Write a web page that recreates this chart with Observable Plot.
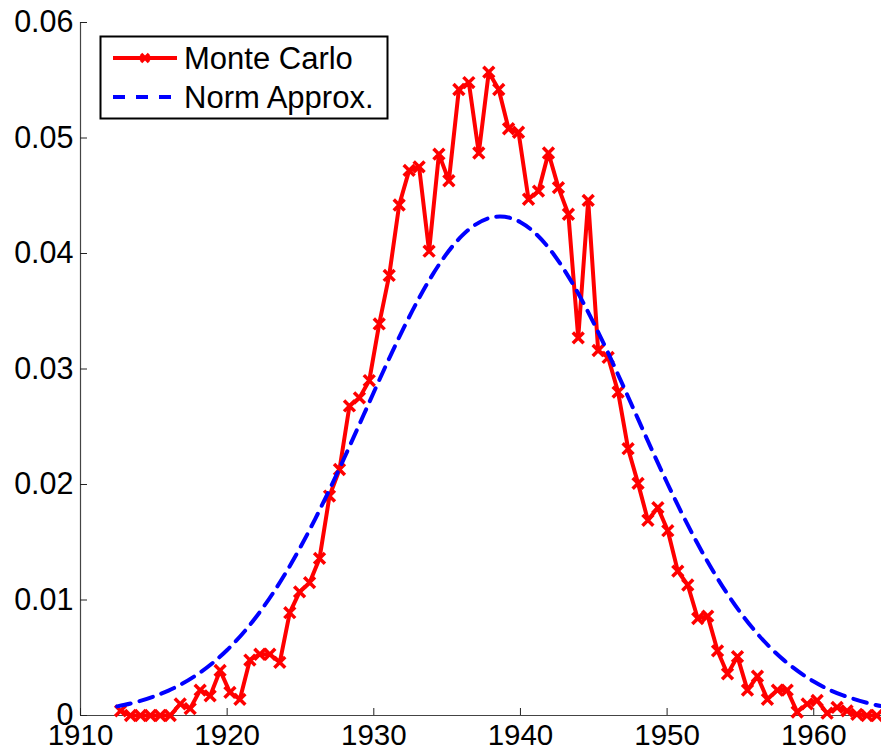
<!DOCTYPE html>
<html>
<head>
<meta charset="utf-8">
<script src="https://cdn.jsdelivr.net/npm/d3@7"></script>
<script src="https://cdn.jsdelivr.net/npm/@observablehq/plot@0.6"></script>
<style>
  html, body { margin: 0; padding: 0; background: #fff; overflow: hidden; }
  #wrap { position: relative; width: 881px; height: 755px; }
  #legend { position: absolute; left: 0; top: 0; }
</style>
</head>
<body>
<div id="wrap"></div>
<script>
// Monte Carlo series (x in years, y density)
const mcYear = [1912.73,1913.41,1914.09,1914.77,1915.44,1916.12,1916.80,1917.48,1918.16,1918.84,
  1919.52,1920.19,1920.87,1921.55,1922.23,1922.91,1923.59,1924.27,1924.94,1925.62,
  1926.30,1926.98,1927.66,1928.34,1929.02,1929.69,1930.37,1931.05,1931.73,1932.41,
  1933.09,1933.77,1934.44,1935.12,1935.80,1936.48,1937.16,1937.84,1938.52,1939.19,
  1939.87,1940.55,1941.23,1941.91,1942.59,1943.27,1943.94,1944.62,1945.30,1945.98,
  1946.66,1947.34,1948.02,1948.69,1949.37,1950.05,1950.73,1951.41,1952.09,1952.77,
  1953.44,1954.12,1954.80,1955.48,1956.16,1956.84,1957.52,1958.19,1958.87,1959.55,
  1960.23,1960.91,1961.59,1962.27,1962.94,1963.62,1964.30];
const mcValue = [0.0004,0,0,0,0,0,0.0010,0.0006,0.0022,0.0017,
  0.0039,0.0020,0.0014,0.0048,0.0053,0.0053,0.0046,0.0089,0.0107,0.0115,
  0.0136,0.0190,0.0213,0.0268,0.0275,0.0290,0.0339,0.0381,0.0442,0.0472,
  0.0475,0.0402,0.0486,0.0463,0.0542,0.0548,0.0487,0.0557,0.0542,0.0508,
  0.0505,0.0447,0.0454,0.0487,0.0457,0.0434,0.0327,0.0446,0.0316,0.0310,
  0.0280,0.0231,0.0201,0.0169,0.0180,0.0160,0.0125,0.0113,0.0084,0.0086,
  0.0056,0.0036,0.0051,0.0022,0.0034,0.0014,0.0022,0.0022,0.0003,0.0010,
  0.0013,0.0002,0.0007,0.0004,0.0001,0,0];

// Normal approximation curve
const normYear = [1912.5,1914,1916,1918,1920,1922,1924,1926,1928,1930,1932,1934,1936,1938,
  1940,1942,1944,1946,1948,1950,1952,1954,1956,1958,1960,1962,1964,1964.62];
const normValue = [0.00079,0.00124,0.00216,0.00358,0.00567,0.00857,0.01236,0.01701,0.02234,0.02799,
  0.03345,0.03815,0.04152,0.04311,0.04271,0.04037,0.0364,0.03133,0.02572,0.02015,
  0.01506,0.01074,0.00731,0.00475,0.00294,0.00174,0.00098,0.00082];

const xTicks = [1910,1920,1930,1940,1950,1960];
const yTicks = [0,0.01,0.02,0.03,0.04,0.05,0.06];
const seriesNames = ["Monte Carlo","Norm Approx."];

const mc = mcYear.map((x,i) => ({x, y: mcValue[i]}));
const norm = normYear.map((x,i) => ({x, y: normValue[i]}));

const FONT = "'Liberation Sans', Arial, sans-serif";

const chart = Plot.plot({
  width: 881,
  height: 755,
  marginLeft: 80,
  marginRight: 0,
  marginTop: 22,
  marginBottom: 40,
  style: {fontFamily: FONT, fontSize: "29px", color: "#000", background: "#fff", overflow: "visible"},
  x: {domain: [1910, 1964.62], label: null},
  y: {domain: [0, 0.06], label: null},
  marks: [
    Plot.ruleX([1910], {stroke: "#444", strokeWidth: 1.2}),
    Plot.ruleY([0], {stroke: "#444", strokeWidth: 1.2}),
    Plot.axisX({ticks: xTicks, tickSize: 0, tickPadding: 9, tickFormat: d => String(d), fill: "#000", fontSize: 29.5}),
    Plot.axisX({ticks: xTicks, tickSize: -7, tickFormat: () => "", stroke: "#222"}),
    Plot.axisY({ticks: yTicks, tickSize: 0, tickPadding: 7, tickFormat: d => d === 0 ? "0" : d.toFixed(2), fill: "#000", fontSize: 30.5}),
    Plot.axisY({ticks: yTicks, tickSize: -7, tickFormat: () => "", stroke: "#222"}),
    Plot.line(mc, {x: "x", y: "y", stroke: "#ff0000", strokeWidth: 4}),
    Plot.dot(mc, {x: "x", y: "y", symbol: "times", r: 5, stroke: "#ff0000", strokeWidth: 3.5}),
    Plot.line(norm, {x: "x", y: "y", stroke: "#0000ff", strokeWidth: 4, strokeDasharray: "14,9", curve: "natural"})
  ]
});

const wrap = document.getElementById("wrap");
wrap.appendChild(chart);

// Legend overlay
const ns = "http://www.w3.org/2000/svg";
const leg = document.createElementNS(ns, "svg");
leg.setAttribute("id", "legend");
leg.setAttribute("width", 881);
leg.setAttribute("height", 140);
leg.style.position = "absolute";
leg.style.left = "0px";
leg.style.top = "0px";
leg.style.fontFamily = FONT;
leg.style.fontSize = "31px";
function el(tag, attrs, text) {
  const e = document.createElementNS(ns, tag);
  for (const k in attrs) e.setAttribute(k, attrs[k]);
  if (text != null) e.textContent = text;
  leg.appendChild(e);
  return e;
}
el("rect", {x: 100.5, y: 36.5, width: 287, height: 82, fill: "#fff", stroke: "#000", "stroke-width": 2});
el("line", {x1: 113, x2: 177, y1: 58, y2: 58, stroke: "#ff0000", "stroke-width": 4});
el("path", {d: "M141,54L149,62M141,62L149,54", stroke: "#ff0000", "stroke-width": 3.5});
el("line", {x1: 113, x2: 177, y1: 97, y2: 97, stroke: "#0000ff", "stroke-width": 4, "stroke-dasharray": "12,11"});
el("text", {x: 184, y: 58, dy: "0.35em", fill: "#000"}, seriesNames[0]);
el("text", {x: 184, y: 97, dy: "0.35em", fill: "#000"}, seriesNames[1]);
wrap.appendChild(leg);
</script>
</body>
</html>
